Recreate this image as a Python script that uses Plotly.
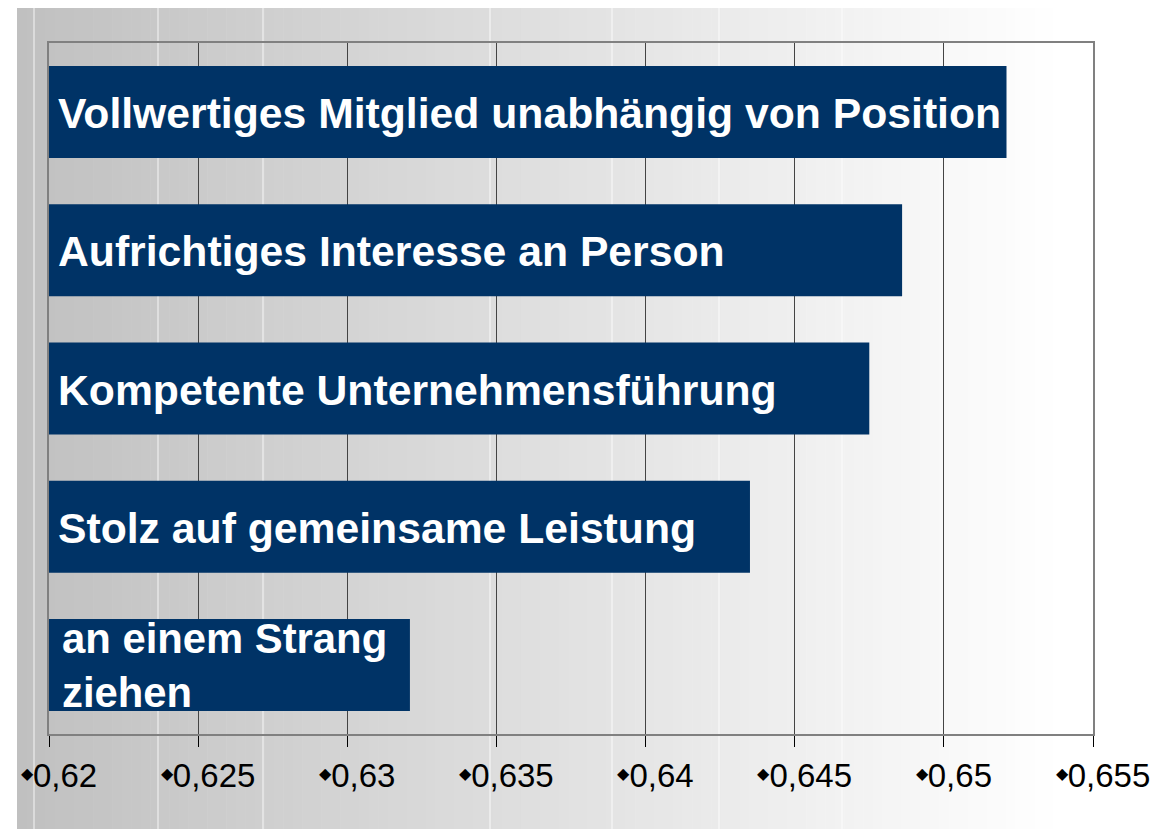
import plotly.graph_objects as go

# ---- data ----
categories = [
    "Vollwertiges Mitglied unabhängig von Position",
    "Aufrichtiges Interesse an Person",
    "Kompetente Unternehmensführung",
    "Stolz auf gemeinsame Leistung",
    "an einem Strang<br>ziehen",
]
values = [0.6521, 0.6486, 0.6475, 0.6435, 0.6321]
label_sizes = [42.7, 42.7, 42.7, 42.7, 41.8]
axis_start = 0.62
axis_end = 0.655
tick_values = [0.62, 0.625, 0.63, 0.635, 0.64, 0.645, 0.65, 0.655]
tick_labels = ["0,62", "0,625", "0,63", "0,635", "0,64", "0,645", "0,65", "0,655"]

W, H = 1158, 829
L, R, T, B = 49, 1093, 43, 734  # plot area in px

def px_x(p):
    return (p - L) / (R - L)

def px_y(p):
    return (B - p) / (B - T)

fig = go.Figure()

fig.add_trace(go.Bar(
    y=categories,
    x=[v - axis_start for v in values],
    base=axis_start,
    orientation="h",
    marker=dict(color="#003366", line=dict(width=0)),
    hoverinfo="skip",
))

annotations = []
for i, (c, s) in enumerate(zip(categories, label_sizes)):
    last = i == len(categories) - 1
    annotations.append(dict(
        x=axis_start, y=c, xref="x", yref="y",
        text=c, showarrow=False, xanchor="left", yanchor="middle",
        align="left", xshift=11 if last else 7, yshift=-1,
        font=dict(family="Liberation Sans, Arial, sans-serif", size=s,
                  color="white", weight="bold"),
    ))

# background gradient (stepped rectangles)
shapes = []
x0, x1 = 17, W
n = 120
for i in range(n):
    a = x0 + (x1 - x0) * i / n
    b = x0 + (x1 - x0) * (i + 1) / n + 0.6
    mid = (a + b) / 2
    g = 192 + 63 * min(1.0, max(0.0, (mid - 17) / (1060 - 17)))
    g = int(round(g))
    shapes.append(dict(type="rect", xref="paper", yref="paper",
                       x0=px_x(a), x1=px_x(b), y0=px_y(H), y1=px_y(8),
                       fillcolor=f"rgb({g},{g},{g})", line=dict(width=0), layer="below"))
# faint seams of the gradient
for sx in [34, 158, 263, 490, 612, 719, 842]:
    shapes.append(dict(type="line", xref="paper", yref="paper",
                       x0=px_x(sx), x1=px_x(sx), y0=px_y(H), y1=px_y(8),
                       line=dict(color="rgba(255,255,255,0.85)", width=1), layer="below"))

fig.update_layout(
    width=W, height=H,
    margin=dict(l=L, r=W - R, t=T, b=H - B, pad=0, autoexpand=False),
    paper_bgcolor="white",
    plot_bgcolor="rgba(0,0,0,0)",
    showlegend=False,
    bargap=0.334,
    shapes=shapes,
    annotations=annotations,
    font=dict(family="Liberation Sans, Arial, sans-serif", color="black"),
    xaxis=dict(
        range=[axis_start, axis_end],
        automargin=False,
        tickmode="array",
        tickvals=tick_values,
        ticktext=["<span style='font-size:16px;baseline-shift:8px'>◆</span>" + t for t in tick_labels],
        tickfont=dict(size=33, color="black"),
        ticks="outside", ticklen=11, tickwidth=1, tickcolor="black",
        ticklabelshift=10,
        showgrid=True, gridcolor="#444444", gridwidth=1,
        showline=True, linecolor="#808080", linewidth=2, mirror=True,
        zeroline=False,
    ),
    yaxis=dict(
        autorange="reversed",
        automargin=False,
        showticklabels=False,
        ticks="",
        showgrid=False,
        showline=True, linecolor="#808080", linewidth=2, mirror=True,
        zeroline=False,
    ),
)

fig.write_html("out.html", config={"displayModeBar": False},
               post_script="document.body.style.margin='0';")
